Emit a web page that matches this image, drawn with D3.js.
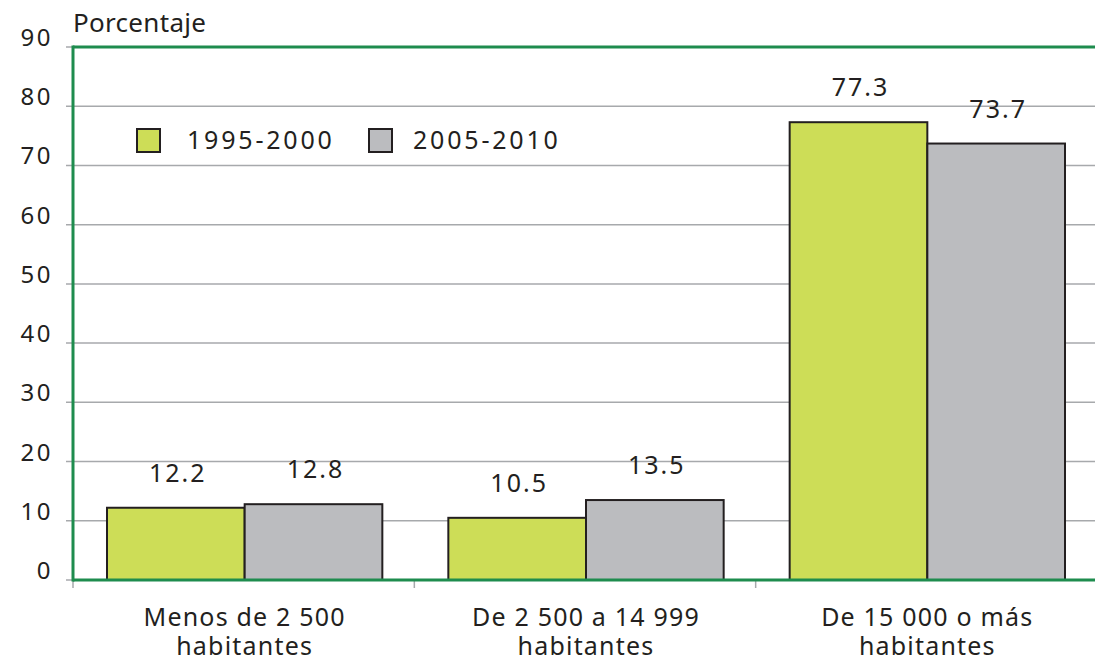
<!DOCTYPE html>
<html>
<head>
<meta charset="utf-8">
<script src="https://cdn.jsdelivr.net/npm/d3@7"></script>
<style>
body{margin:0;background:#fff}
text{font-family:"Noto Sans",sans-serif;fill:#231f20}
</style>
</head>
<body>
<div id="chart"></div>
<script>
const categories=[["Menos de 2 500","habitantes"],["De 2 500 a 14 999","habitantes"],["De 15 000 o más","habitantes"]]
const seriesNames=["1995-2000","2005-2010"]
const values1995=[12.2,10.5,77.3]
const values2005=[12.8,13.5,73.7]
const yTicks=[0,10,20,30,40,50,60,70,80,90]

const width=1095
const height=661
const colors=["#cddd57","#bbbcbf"]
const green="#1e8c4e"

const svg=d3.select("#chart").append("svg")
.attr("width",width)
.attr("height",height)

const y=d3.scaleLinear().domain([0,90]).range([580,47])

const x0=d3.scaleBand()
.domain(categories.map((d,i)=>i))
.range([74,1098])

const x1=d3.scaleBand()
.domain([0,1])
.range([33,x0.bandwidth()-33])

// gridlines and left ticks
svg.append("g")
.selectAll("line")
.data(yTicks.filter(t=>t>0&&t<90))
.enter()
.append("line")
.attr("x1",66).attr("x2",width)
.attr("y1",d=>y(d)).attr("y2",d=>y(d))
.attr("stroke","#a7a9ac")
.attr("stroke-width",1.5)

svg.append("g")
.selectAll("line")
.data([0,90])
.enter()
.append("line")
.attr("x1",66).attr("x2",73)
.attr("y1",d=>y(d)).attr("y2",d=>y(d))
.attr("stroke","#a7a9ac")
.attr("stroke-width",1.5)

svg.append("g")
.selectAll("text")
.data(yTicks)
.enter()
.append("text")
.attr("x",53)
.attr("y",d=>y(d)-1)
.attr("text-anchor","end")
.attr("font-size",24)
.attr("letter-spacing",2.5)
.text(d=>d)

// x ticks at category boundaries
svg.append("g")
.selectAll("line")
.data(categories.map((d,i)=>i))
.enter()
.append("line")
.attr("x1",d=>x0(d)-1).attr("x2",d=>x0(d)-1)
.attr("y1",580).attr("y2",588)
.attr("stroke","#a7a9ac")
.attr("stroke-width",1.5)

// bars
const groups=svg.append("g")
.selectAll("g")
.data(categories.map((d,i)=>[values1995[i],values2005[i]]))
.enter()
.append("g")
.attr("transform",(d,i)=>`translate(${x0(i)},0)`)

groups.selectAll("rect")
.data(d=>d)
.enter()
.append("rect")
.attr("x",(d,j)=>x1(j))
.attr("y",d=>y(d))
.attr("width",x1.bandwidth())
.attr("height",d=>y(0)-y(d))
.attr("fill",(d,j)=>colors[j])
.attr("stroke","#231f20")
.attr("stroke-width",2)

groups.selectAll("text")
.data(d=>d)
.enter()
.append("text")
.attr("x",(d,j)=>x1(j)+x1.bandwidth()/2+2)
.attr("y",d=>y(d)-26)
.attr("text-anchor","middle")
.attr("font-size",25)
.attr("letter-spacing",2)
.text(d=>d.toFixed(1))

// axis frame
svg.append("line")
.attr("x1",73).attr("x2",width)
.attr("y1",y(90)).attr("y2",y(90))
.attr("stroke",green).attr("stroke-width",3)

svg.append("line")
.attr("x1",73).attr("x2",width)
.attr("y1",y(0)).attr("y2",y(0))
.attr("stroke",green).attr("stroke-width",3)

svg.append("line")
.attr("x1",73).attr("x2",73)
.attr("y1",y(90)-1.5).attr("y2",y(0)+1.5)
.attr("stroke",green).attr("stroke-width",3)

// category labels
const catLabels=svg.append("g")
.selectAll("text")
.data(categories)
.enter()
.append("text")
.attr("x",(d,i)=>x0(i)+x0.bandwidth()/2)
.attr("y",626)
.attr("text-anchor","middle")
.attr("font-size",25)
.attr("letter-spacing",1.2)

catLabels.selectAll("tspan")
.data(d=>d)
.enter()
.append("tspan")
.attr("x",function(){return this.parentNode.getAttribute("x")})
.attr("dy",(d,i)=>i===0?0:29)
.text(d=>d)

// y title
svg.append("text")
.attr("x",73)
.attr("y",32)
.attr("font-size",26)
.attr("letter-spacing",0.3)
.text("Porcentaje")

// legend
const legendX=[137,369]
const legend=svg.append("g")
.selectAll("g")
.data(seriesNames)
.enter()
.append("g")
.attr("transform",(d,i)=>`translate(${legendX[i]},129)`)

legend.append("rect")
.attr("width",23).attr("height",23)
.attr("fill",(d,i)=>colors[i])
.attr("stroke","#231f20")
.attr("stroke-width",2)

legend.append("text")
.attr("x",(d,i)=>i===0?50:44)
.attr("y",20)
.attr("font-size",25)
.attr("letter-spacing",2.8)
.text(d=>d)
</script>
</body>
</html>
